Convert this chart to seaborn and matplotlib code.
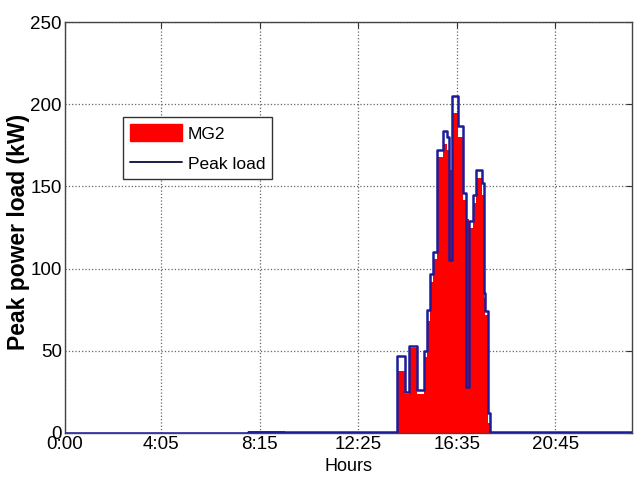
import numpy as np
import pandas as pd
import matplotlib
matplotlib.use('Agg')
import matplotlib.pyplot as plt
import seaborn as sns
from matplotlib.patches import Patch
from matplotlib.lines import Line2D

# breakpoints of the step profile (minutes from midnight)
t_min = [0, 464, 558, 800, 843, 863, 873, 893, 911, 919, 926, 934, 944, 959,
         970, 975, 982, 998, 1010, 1018, 1025, 1036, 1043, 1058, 1063, 1068,
         1074, 1079, 1440]
# MG2 supplied power (kW)
mg2 = [0, 1.5, 0.3, 0, 38, 24, 52, 24, 46, 68, 92, 106, 168, 176,
       172, 160, 195, 180, 142, 130, 125, 140, 155, 145, 82, 72,
       6, 0, 0]
# peak load (kW)
peak = [0, 0.8, 0.8, 0.5, 47, 25, 53, 26, 50, 75, 97, 110, 172, 184,
        180, 105, 205, 187, 146, 28, 129, 145, 160, 152, 85, 74,
        12, 0.5, 0.5]

tick_min = [0, 245, 495, 745, 995, 1245]
tick_lbl = ['0:00', '4:05', '8:15', '12:25', '16:35', '20:45']

df = pd.DataFrame({'t': t_min, 'mg2': mg2, 'peak': peak})

sns.set_style('white')
plt.rcParams['font.family'] = ['Liberation Sans', 'DejaVu Sans']
plt.rcParams['text.color'] = 'black'
plt.rcParams['axes.labelcolor'] = 'black'
plt.rcParams['xtick.color'] = 'black'
plt.rcParams['ytick.color'] = 'black'

fig = plt.figure(figsize=(6.41, 4.82), dpi=100)
ax = fig.add_axes([0.101, 0.1017, 0.885, 0.8523])

ax.fill_between(df['t'], df['mg2'], step='post', color='#ff0000', linewidth=0, zorder=2)
sns.lineplot(data=df, x='t', y='peak', drawstyle='steps-post', color='#1c1c9a',
             linewidth=1.8, ax=ax, zorder=3)

ax.set_xlim(0, 1440)
ax.set_ylim(0, 250)
ax.set_xticks(tick_min)
ax.set_xticklabels(tick_lbl)
ax.set_yticks([0, 50, 100, 150, 200, 250])
ax.tick_params(direction='in', length=4, labelsize=13.5, top=True, right=True,
               color='#333333', pad=2)
ax.grid(True, linestyle=':', color='#666666', linewidth=0.9)
for s in ax.spines.values():
    s.set_color('#444444')
    s.set_linewidth(1.0)

ax.set_xlabel('Hours', fontsize=13, labelpad=4)
ax.set_ylabel('Peak power load (kW)', fontsize=16.5, fontweight='bold')
ax.yaxis.set_label_coords(-0.062, 0.49)

handles = [Patch(facecolor='#ff0000', edgecolor='#ff0000'),
           Line2D([0], [0], color='#1c1c4a', linewidth=1.4)]
leg = ax.legend(handles, ['MG2', 'Peak load'], loc='upper left',
                bbox_to_anchor=(0.102, 0.768), fancybox=False, framealpha=1,
                edgecolor='#333333', fontsize=12.5, handlelength=3.0,
                handleheight=1.1, handletextpad=0.35,
                borderpad=0.4, labelspacing=0.75, borderaxespad=0)
leg.get_frame().set_linewidth(1.0)

fig.savefig('out.png', dpi=100)
